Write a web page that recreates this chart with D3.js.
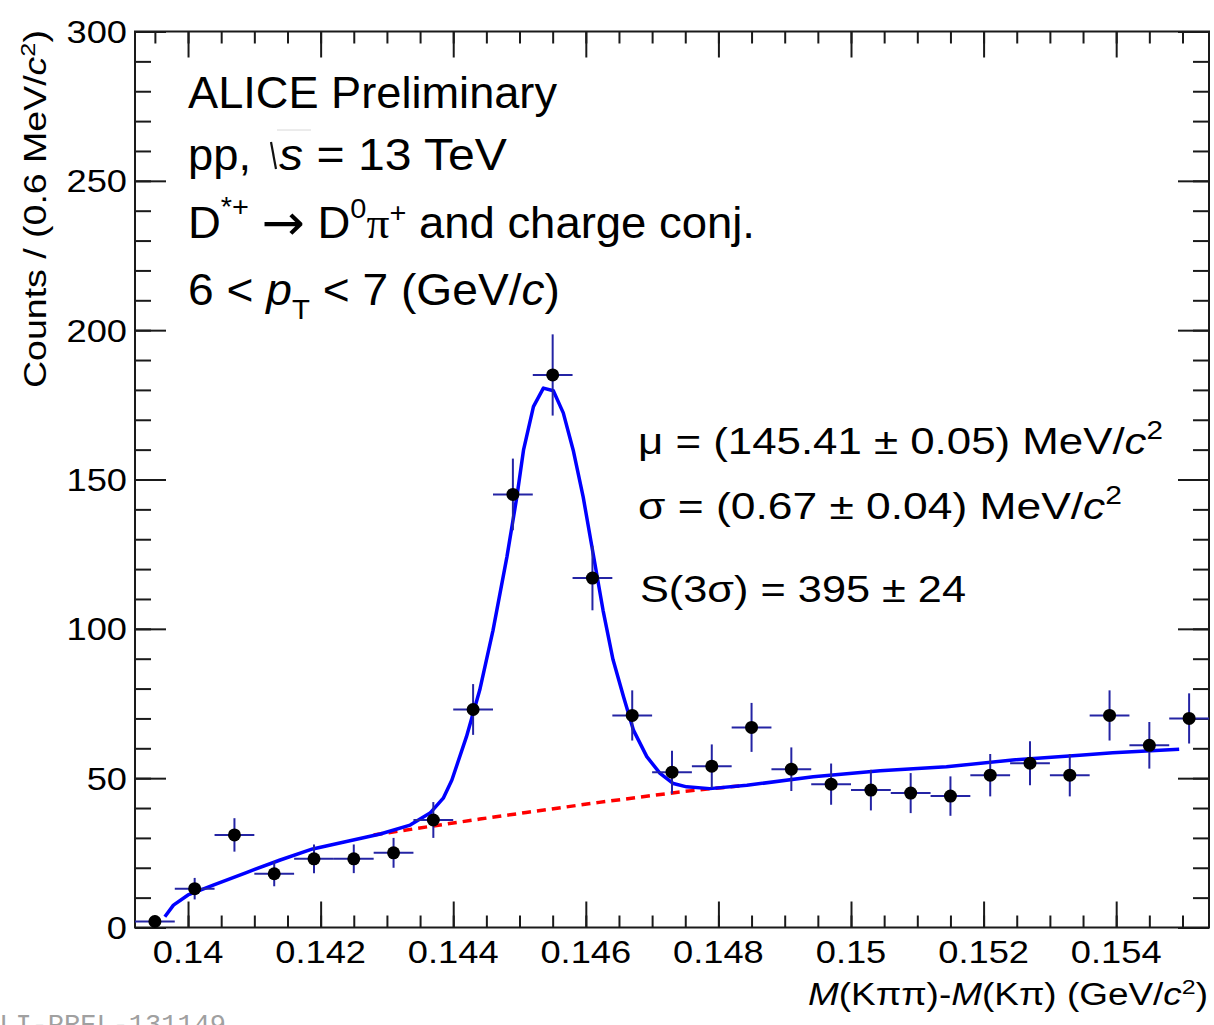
<!DOCTYPE html>
<html>
<head>
<meta charset="utf-8">
<script src="https://cdn.jsdelivr.net/npm/d3@7"></script>
<style>
  body { margin: 0; background: #fff; }
  svg { display: block; }
  text { font-family: "Liberation Sans", Arial, Helvetica, sans-serif; fill: #000; }
</style>
</head>
<body>
<script>
// D*+ -> D0 pi+ : mass-difference histogram (0.6 MeV/c^2 bins)
const binCenters = [0.1395, 0.1401, 0.1407, 0.1413, 0.1419, 0.1425, 0.1431, 0.1437, 0.1443,
                    0.1449, 0.1455, 0.1461, 0.1467, 0.1473, 0.1479, 0.1485, 0.1491, 0.1497,
                    0.1503, 0.1509, 0.1515, 0.1521, 0.1527, 0.1533, 0.1539, 0.1545, 0.1551];
const counts = [2, 13, 31, 18, 23, 23, 25, 36, 73, 145, 185, 117, 71, 52, 54, 67, 53, 48,
                46, 45, 44, 51, 55, 51, 71, 61, 70];
const countErrors = [1.4, 3.6, 5.6, 4.2, 4.8, 4.8, 5.0, 6.0, 8.5, 12.0, 13.6, 10.8, 8.4, 7.2,
                     7.3, 8.2, 7.3, 6.9, 6.8, 6.7, 6.6, 7.1, 7.4, 7.1, 8.4, 7.8, 8.4];
const binHalfWidth = 0.0003;

// total fit (signal + background)
const fitX = [0.13965, 0.13978, 0.14000, 0.14038, 0.14088, 0.14139, 0.14188, 0.14239, 0.14290,
              0.14335, 0.14365, 0.14385, 0.14398, 0.14420, 0.14440, 0.14460, 0.14481, 0.14496,
              0.14506, 0.14521, 0.14536, 0.14551, 0.14566, 0.14581, 0.14596, 0.14611, 0.14626,
              0.14641, 0.14657, 0.14672, 0.14692, 0.14712, 0.14732, 0.14752, 0.14787, 0.14843,
              0.14943, 0.15044, 0.15144, 0.15244, 0.15345, 0.15395, 0.15495];
const fitY = [3.6, 7.5, 10.9, 14.2, 18.4, 22.6, 26.3, 28.8, 31.3,
              34.3, 38.3, 43.3, 49.4, 63.9, 79.5, 99.5, 124.1, 144.2,
              159.8, 174.4, 180.6, 179.7, 172.3, 159.8, 144.2, 125.2, 106.2,
              89.7, 77.2, 66.0, 57.2, 51.6, 48.2, 47.1, 46.5, 47.6,
              50.5, 52.5, 53.8, 56.1, 57.7, 58.5, 59.7];

// background component under the peak
const bkgX = [0.1428, 0.1437, 0.1444, 0.1451, 0.1462, 0.1475, 0.1484];
const bkgY = [31.0, 34.0, 36.3, 38.5, 41.9, 45.6, 47.6];

const xTicks = [0.140, 0.142, 0.144, 0.146, 0.148, 0.150, 0.152, 0.154];
const xTickLabels = ["0.14", "0.142", "0.144", "0.146", "0.148", "0.15", "0.152", "0.154"];
const yTicks = [0, 50, 100, 150, 200, 250, 300];
const yTickLabels = ["0", "50", "100", "150", "200", "250", "300"];

const W = 1214, H = 1025;
const svg = d3.select("body").append("svg").attr("width", W).attr("height", H);

const x = d3.scaleLinear().domain([0.1392, 0.1554]).range([135, 1209]);
const y = d3.scaleLinear().domain([0, 300]).range([927.5, 31.5]);
const [x0, x1] = x.range();
const [yb, yt] = y.range();

const xMinor = d3.range(0.1395, 0.1554, 0.0005);
const yMinor = d3.range(0, 301, 10);

// ---- axes: ticks on all four sides, pointing inward ----
const tickColor = "#1a1a1a";
function styleAxis(g) {
  g.select(".domain").remove();
  g.selectAll("line").attr("stroke", tickColor).attr("stroke-width", 2);
  g.selectAll("text").remove();
}
svg.append("g").attr("transform", `translate(0,${yb})`)
  .call(d3.axisBottom(x).tickValues(xMinor).tickSize(-12).tickFormat("")).call(styleAxis);
svg.append("g").attr("transform", `translate(0,${yb})`)
  .call(d3.axisBottom(x).tickValues(xTicks).tickSize(-26).tickFormat("")).call(styleAxis);
svg.append("g").attr("transform", `translate(0,${yt})`)
  .call(d3.axisTop(x).tickValues(xMinor).tickSize(-12).tickFormat("")).call(styleAxis);
svg.append("g").attr("transform", `translate(0,${yt})`)
  .call(d3.axisTop(x).tickValues(xTicks).tickSize(-26).tickFormat("")).call(styleAxis);
svg.append("g").attr("transform", `translate(${x0},0)`)
  .call(d3.axisLeft(y).tickValues(yMinor).tickSize(-16).tickFormat("")).call(styleAxis);
svg.append("g").attr("transform", `translate(${x0},0)`)
  .call(d3.axisLeft(y).tickValues(yTicks).tickSize(-31).tickFormat("")).call(styleAxis);
svg.append("g").attr("transform", `translate(${x1},0)`)
  .call(d3.axisRight(y).tickValues(yMinor).tickSize(-16).tickFormat("")).call(styleAxis);
svg.append("g").attr("transform", `translate(${x1},0)`)
  .call(d3.axisRight(y).tickValues(yTicks).tickSize(-31).tickFormat("")).call(styleAxis);

// frame
svg.append("rect").attr("x", x0).attr("y", yt).attr("width", x1 - x0).attr("height", yb - yt)
  .attr("fill", "none").attr("stroke", tickColor).attr("stroke-width", 2);

// tick labels (slightly wide glyphs)
const labelStretch = 1.17;
svg.append("g").selectAll("text").data(xTicks).join("text")
  .attr("transform", d => `translate(${x(d)},963) scale(${labelStretch},1)`)
  .attr("text-anchor", "middle").attr("font-size", 31)
  .text((d, i) => xTickLabels[i]);
svg.append("g").selectAll("text").data(yTicks).join("text")
  .attr("transform", d => `translate(127,${y(d) + 11.5}) scale(${labelStretch},1)`)
  .attr("text-anchor", "end").attr("font-size", 31)
  .text((d, i) => yTickLabels[i]);

// axis titles
const xt = svg.append("text").attr("x", 808).attr("y", 1005).attr("font-size", 31)
  .attr("textLength", 400).attr("lengthAdjust", "spacingAndGlyphs");
xt.append("tspan").attr("font-style", "italic").text("M");
xt.append("tspan").text("(K\u03c0\u03c0)-");
xt.append("tspan").attr("font-style", "italic").text("M");
xt.append("tspan").text("(K\u03c0) (GeV/");
xt.append("tspan").attr("font-style", "italic").text("c");
xt.append("tspan").attr("font-size", 21).attr("dy", -11).text("2");
xt.append("tspan").attr("dy", 11).text(")");

const yl = svg.append("text").attr("transform", "translate(46,388) rotate(-90)")
  .attr("font-size", 31).attr("textLength", 358).attr("lengthAdjust", "spacingAndGlyphs");
yl.append("tspan").text("Counts / (0.6 MeV/");
yl.append("tspan").attr("font-style", "italic").text("c");
yl.append("tspan").attr("font-size", 21).attr("dy", -11).text("2");
yl.append("tspan").attr("dy", 11).text(")");

// ---- fit functions ----
const line = d3.line().x(d => x(d[0])).y(d => y(d[1]));
svg.append("path").datum(d3.zip(bkgX, bkgY)).attr("d", line)
  .attr("fill", "none").attr("stroke", "#ff0000").attr("stroke-width", 3.5)
  .attr("stroke-dasharray", "9,6");
svg.append("path").datum(d3.zip(fitX, fitY)).attr("d", line)
  .attr("fill", "none").attr("stroke", "#0000ff").attr("stroke-width", 3.5)
  .attr("stroke-linejoin", "round");

// ---- data points with error bars ----
const pts = svg.append("g").selectAll("g").data(binCenters).join("g");
const errColor = "#2424a4";
pts.append("line")
  .attr("x1", d => x(d - binHalfWidth)).attr("x2", d => x(d + binHalfWidth))
  .attr("y1", (d, i) => y(counts[i])).attr("y2", (d, i) => y(counts[i]))
  .attr("stroke", errColor).attr("stroke-width", 2);
pts.append("line")
  .attr("x1", d => x(d)).attr("x2", d => x(d))
  .attr("y1", (d, i) => y(counts[i] - countErrors[i]))
  .attr("y2", (d, i) => y(counts[i] + countErrors[i]))
  .attr("stroke", errColor).attr("stroke-width", 2);
pts.append("circle")
  .attr("cx", d => x(d)).attr("cy", (d, i) => y(counts[i])).attr("r", 6.5)
  .attr("fill", "#000");

// ---- labels ----
svg.append("text").attr("x", 188).attr("y", 108).attr("font-size", 44)
  .attr("textLength", 369).attr("lengthAdjust", "spacingAndGlyphs").text("ALICE Preliminary");

svg.append("text").attr("x", 188).attr("y", 170).attr("font-size", 44)
  .attr("textLength", 63).attr("lengthAdjust", "spacingAndGlyphs").text("pp,");
svg.append("path").attr("d", "M271,142 L276,169").attr("stroke", "#111").attr("stroke-width", 2.2);
svg.append("path").attr("d", "M277,130 L311,130").attr("stroke", "#d8d8d8").attr("stroke-width", 1);
const l2 = svg.append("text").attr("x", 279).attr("y", 170).attr("font-size", 44)
  .attr("textLength", 228).attr("lengthAdjust", "spacingAndGlyphs");
l2.append("tspan").attr("font-style", "italic").text("s");
l2.append("tspan").text(" = 13 TeV");

const l3 = svg.append("text").attr("x", 188).attr("y", 238).attr("font-size", 44)
  .attr("textLength", 567).attr("lengthAdjust", "spacingAndGlyphs");
l3.append("tspan").text("D");
l3.append("tspan").attr("font-size", 28).attr("dy", -22).text("*+");
l3.append("tspan").attr("dy", 22).text(" ");
l3.append("tspan").style("font-family", "'DejaVu Sans', sans-serif").attr("font-size", 50)
  .attr("dy", 2).text("\u2192");
l3.append("tspan").attr("dy", -2).text(" D");
l3.append("tspan").attr("font-size", 28).attr("dy", -20).text("0");
l3.append("tspan").attr("dy", 20).style("font-family", "'Liberation Serif', serif").text("\u03c0");
l3.append("tspan").attr("font-size", 28).attr("dy", -16).text("+");
l3.append("tspan").attr("dy", 16).text(" and charge conj.");

const l4 = svg.append("text").attr("x", 188).attr("y", 305).attr("font-size", 44)
  .attr("textLength", 372).attr("lengthAdjust", "spacingAndGlyphs");
l4.append("tspan").text("6 < ");
l4.append("tspan").attr("font-style", "italic").text("p");
l4.append("tspan").attr("font-size", 28).attr("dy", 14).text("T");
l4.append("tspan").attr("dy", -14).text(" < 7 (GeV/");
l4.append("tspan").attr("font-style", "italic").text("c");
l4.append("tspan").text(")");

const r1 = svg.append("text").attr("x", 638).attr("y", 454).attr("font-size", 37)
  .attr("textLength", 525).attr("lengthAdjust", "spacingAndGlyphs");
r1.append("tspan").text("\u03bc = (145.41 \u00b1 0.05) MeV/");
r1.append("tspan").attr("font-style", "italic").text("c");
r1.append("tspan").attr("font-size", 25).attr("dy", -15).text("2");

const r2 = svg.append("text").attr("x", 638).attr("y", 519).attr("font-size", 37)
  .attr("textLength", 484).attr("lengthAdjust", "spacingAndGlyphs");
r2.append("tspan").text("\u03c3 = (0.67 \u00b1 0.04) MeV/");
r2.append("tspan").attr("font-style", "italic").text("c");
r2.append("tspan").attr("font-size", 25).attr("dy", -15).text("2");

svg.append("text").attr("x", 640).attr("y", 602).attr("font-size", 37)
  .attr("textLength", 326).attr("lengthAdjust", "spacingAndGlyphs")
  .text("S(3\u03c3) = 395 \u00b1 24");

// preliminary figure id at the page bottom
svg.append("text").attr("x", -17).attr("y", 1033).attr("font-size", 27)
  .style("font-family", "'Liberation Mono', 'DejaVu Sans Mono', monospace")
  .style("fill", "#a0a0a0").text("ALI-PREL-131149");
</script>
</body>
</html>
